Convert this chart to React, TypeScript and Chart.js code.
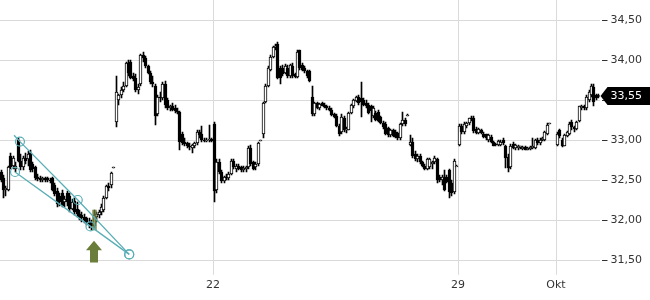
import React, { useEffect, useRef } from "react";
import { Chart, registerables } from "chart.js";

Chart.register(...registerables);

// [open, high, low, close]
type Candle = [number, number, number, number];

const sessionNames = ["15.09", "16.09", "17.09", "18.09", "19.09", "22.09", "23.09", "24.09", "25.09", "26.09", "29.09", "30.09", "01.10"];
const tickSessions = [5, 10, 12];
const tickLabels = ["22", "29", "Okt"];
const yTicks = [31.5, 32, 32.5, 33, 33.5, 34, 34.5];
const candlesPerSession = 20;

const sep15: Candle[] = [
  [32.60, 32.62, 32.48, 32.50], [32.52, 32.56, 32.28, 32.38], [32.38, 32.42, 32.30, 32.40],
  [32.38, 32.68, 32.36, 32.66], [32.80, 32.84, 32.64, 32.66], [32.68, 32.80, 32.64, 32.78],
  [32.64, 32.72, 32.60, 32.68],
];
const sep16: Candle[] = [
  [33.00, 33.03, 32.72, 32.74], [32.74, 32.82, 32.62, 32.66], [32.66, 32.80, 32.62, 32.78],
  [32.78, 32.84, 32.70, 32.74], [32.76, 32.86, 32.68, 32.82], [32.84, 32.88, 32.60, 32.62],
  [32.70, 32.73, 32.60, 32.64], [32.66, 32.68, 32.50, 32.52], [32.54, 32.58, 32.49, 32.51],
  [32.52, 32.55, 32.48, 32.50], [32.50, 32.54, 32.47, 32.52], [32.52, 32.54, 32.48, 32.50],
  [32.52, 32.54, 32.48, 32.50], [32.50, 32.53, 32.46, 32.49], [32.52, 32.54, 32.36, 32.38],
  [32.44, 32.46, 32.30, 32.32], [32.36, 32.40, 32.16, 32.20], [32.30, 32.34, 32.18, 32.22],
  [32.34, 32.37, 32.16, 32.18], [32.22, 32.30, 32.16, 32.26],
];
const sep17: Candle[] = [
  [32.34, 32.36, 32.18, 32.22], [32.30, 32.34, 32.10, 32.14], [32.14, 32.26, 32.12, 32.22],
  [32.24, 32.28, 32.06, 32.10], [32.14, 32.22, 32.04, 32.08], [32.08, 32.12, 32.00, 32.04],
  [32.06, 32.10, 31.98, 32.02], [32.04, 32.08, 31.96, 32.00], [32.02, 32.04, 31.94, 31.97],
  [31.98, 32.02, 31.90, 31.95], [31.96, 32.00, 31.88, 31.92], [31.92, 32.12, 31.90, 32.06],
  [32.04, 32.10, 31.98, 32.08], [32.06, 32.12, 32.02, 32.10], [32.10, 32.20, 32.06, 32.16],
  [32.12, 32.30, 32.10, 32.28], [32.28, 32.44, 32.26, 32.42], [32.42, 32.46, 32.36, 32.40],
  [32.44, 32.60, 32.40, 32.59], [32.65, 32.66, 32.65, 32.66],
];
const sep18: Candle[] = [
  [33.22, 33.80, 33.16, 33.60], [33.50, 33.58, 33.44, 33.56], [33.56, 33.66, 33.52, 33.63],
  [33.63, 33.72, 33.60, 33.68], [33.68, 33.98, 33.66, 33.96], [33.96, 34.00, 33.80, 33.84],
  [33.98, 34.00, 33.76, 33.78], [33.80, 33.84, 33.74, 33.76], [33.78, 33.82, 33.60, 33.62],
  [33.62, 33.70, 33.58, 33.66], [33.70, 34.08, 33.68, 34.06], [34.06, 34.10, 33.98, 34.02],
  [34.02, 34.05, 33.90, 33.93], [33.92, 33.94, 33.82, 33.84], [33.84, 33.86, 33.70, 33.72],
  [33.72, 33.80, 33.66, 33.70], [33.68, 33.70, 33.19, 33.30], [33.32, 33.56, 33.30, 33.54],
  [33.54, 33.60, 33.48, 33.52], [33.52, 33.72, 33.50, 33.70],
];
const sep19: Candle[] = [
  [33.70, 33.74, 33.40, 33.44], [33.50, 33.52, 33.38, 33.40], [33.40, 33.44, 33.36, 33.42],
  [33.42, 33.46, 33.36, 33.38], [33.40, 33.44, 33.34, 33.36], [33.36, 33.40, 33.33, 33.35],
  [33.35, 33.36, 32.88, 32.98], [33.08, 33.10, 32.94, 32.96], [32.98, 33.02, 32.92, 32.95],
  [32.96, 32.98, 32.90, 32.93], [32.93, 32.96, 32.88, 32.92], [32.90, 32.95, 32.84, 32.94],
  [32.93, 32.98, 32.90, 32.96], [32.96, 33.12, 32.94, 33.10], [33.10, 33.12, 33.02, 33.06],
  [33.08, 33.18, 32.98, 33.00], [33.00, 33.03, 32.97, 32.99], [32.99, 33.02, 32.98, 33.00],
  [33.00, 33.19, 32.98, 33.01], [33.01, 33.02, 32.97, 32.99],
];
const sep22: Candle[] = [
  [33.20, 33.22, 32.23, 32.36], [32.38, 32.76, 32.34, 32.72], [32.72, 32.76, 32.58, 32.60],
  [32.60, 32.62, 32.46, 32.49], [32.49, 32.55, 32.46, 32.54], [32.54, 32.58, 32.50, 32.52],
  [32.52, 32.60, 32.50, 32.58], [32.58, 32.76, 32.56, 32.74], [32.74, 32.76, 32.64, 32.66],
  [32.64, 32.70, 32.60, 32.68], [32.68, 32.70, 32.62, 32.64], [32.66, 32.68, 32.60, 32.62],
  [32.62, 32.67, 32.60, 32.65], [32.64, 32.68, 32.60, 32.66], [32.66, 32.92, 32.64, 32.90],
  [32.90, 32.94, 32.68, 32.70], [32.72, 32.74, 32.62, 32.64], [32.66, 32.72, 32.62, 32.70],
  [32.70, 32.98, 32.68, 32.96], [32.99, 33.00, 32.99, 33.00],
];
const sep23: Candle[] = [
  [33.08, 33.48, 33.02, 33.46], [33.48, 33.70, 33.46, 33.68], [33.68, 33.92, 33.66, 33.90],
  [33.88, 34.06, 33.86, 34.04], [34.04, 34.17, 34.02, 34.16], [34.16, 34.20, 34.12, 34.18],
  [34.20, 34.23, 33.76, 33.78], [33.90, 33.92, 33.70, 33.78], [33.90, 33.94, 33.80, 33.82],
  [33.84, 33.95, 33.82, 33.92], [33.90, 33.94, 33.78, 33.80], [33.80, 33.95, 33.78, 33.94],
  [33.92, 33.96, 33.78, 33.80], [33.82, 33.84, 33.78, 33.79], [33.79, 34.12, 33.78, 34.10],
  [34.12, 34.13, 33.88, 33.90], [33.94, 33.96, 33.86, 33.88], [33.90, 33.92, 33.84, 33.86],
  [33.86, 33.88, 33.78, 33.80], [33.86, 33.88, 33.72, 33.74],
];
const sep24: Candle[] = [
  [33.54, 33.67, 33.30, 33.32], [33.32, 33.47, 33.30, 33.46], [33.46, 33.48, 33.39, 33.40],
  [33.40, 33.46, 33.38, 33.45], [33.46, 33.48, 33.42, 33.43], [33.44, 33.46, 33.40, 33.41],
  [33.42, 33.44, 33.38, 33.40], [33.40, 33.42, 33.36, 33.38], [33.38, 33.40, 33.30, 33.31],
  [33.32, 33.34, 33.28, 33.29], [33.30, 33.32, 33.16, 33.18], [33.18, 33.20, 33.05, 33.08],
  [33.10, 33.32, 33.08, 33.29], [33.28, 33.30, 33.10, 33.12], [33.12, 33.16, 33.09, 33.14],
  [33.13, 33.35, 33.12, 33.34], [33.34, 33.45, 33.32, 33.44], [33.42, 33.51, 33.40, 33.50],
  [33.49, 33.55, 33.47, 33.54], [33.54, 33.56, 33.44, 33.46],
];
const sep25: Candle[] = [
  [33.52, 33.73, 33.29, 33.48], [33.50, 33.52, 33.42, 33.44], [33.46, 33.50, 33.40, 33.42],
  [33.44, 33.46, 33.32, 33.34], [33.42, 33.44, 33.22, 33.36], [33.30, 33.42, 33.28, 33.40],
  [33.34, 33.36, 33.24, 33.25], [33.35, 33.37, 33.22, 33.24], [33.29, 33.30, 33.20, 33.21],
  [33.21, 33.24, 33.14, 33.16], [33.20, 33.22, 33.06, 33.08], [33.15, 33.16, 33.04, 33.06],
  [33.06, 33.14, 33.04, 33.12], [33.13, 33.14, 33.04, 33.05], [33.10, 33.12, 33.02, 33.04],
  [33.09, 33.10, 33.00, 33.02], [33.02, 33.21, 33.00, 33.20], [33.20, 33.35, 33.18, 33.25],
  [33.25, 33.28, 33.18, 33.20], [33.31, 33.32, 33.30, 33.31],
];
const sep26: Candle[] = [
  [32.94, 33.06, 32.92, 32.98], [32.98, 33.02, 32.78, 32.80], [32.82, 32.86, 32.74, 32.76],
  [32.76, 32.82, 32.72, 32.80], [32.80, 32.82, 32.70, 32.72], [32.72, 32.74, 32.66, 32.68],
  [32.68, 32.70, 32.62, 32.64], [32.64, 32.78, 32.62, 32.76], [32.66, 32.78, 32.64, 32.76],
  [32.70, 32.74, 32.64, 32.72], [32.73, 32.80, 32.70, 32.78], [32.76, 32.78, 32.46, 32.50],
  [32.54, 32.56, 32.48, 32.50], [32.50, 32.56, 32.44, 32.54], [32.52, 32.62, 32.36, 32.38],
  [32.54, 32.56, 32.46, 32.48], [32.62, 32.64, 32.27, 32.35], [32.46, 32.50, 32.30, 32.34],
  [32.35, 32.76, 32.33, 32.74], [32.68, 32.69, 32.67, 32.68],
];
const sep29: Candle[] = [
  [32.94, 33.20, 32.93, 33.18], [33.18, 33.20, 33.08, 33.10], [33.10, 33.22, 33.08, 33.20],
  [33.18, 33.22, 33.15, 33.21], [33.21, 33.28, 33.19, 33.27], [33.28, 33.30, 33.24, 33.26],
  [33.28, 33.30, 33.09, 33.11], [33.14, 33.16, 33.08, 33.09], [33.09, 33.15, 33.07, 33.14],
  [33.12, 33.14, 33.08, 33.09], [33.08, 33.10, 33.02, 33.04], [33.07, 33.08, 33.00, 33.02],
  [33.00, 33.08, 32.98, 33.06], [33.04, 33.06, 32.96, 32.97], [32.98, 32.99, 32.92, 32.93],
  [32.95, 32.96, 32.92, 32.94], [32.94, 33.00, 32.93, 32.99], [32.94, 33.00, 32.92, 32.98],
  [33.00, 33.02, 32.94, 32.96], [32.92, 32.94, 32.65, 32.77],
];
const sep30: Candle[] = [
  [32.79, 32.82, 32.60, 32.65], [32.66, 32.95, 32.64, 32.93], [32.95, 32.97, 32.89, 32.90],
  [32.90, 32.95, 32.88, 32.94], [32.90, 32.94, 32.88, 32.93], [32.91, 32.93, 32.89, 32.92],
  [32.89, 32.92, 32.87, 32.91], [32.91, 32.92, 32.87, 32.88], [32.88, 32.91, 32.87, 32.90],
  [32.89, 32.92, 32.88, 32.91], [32.90, 33.02, 32.89, 32.92], [32.90, 33.01, 32.89, 33.00],
  [33.00, 33.02, 32.94, 32.96], [32.96, 33.02, 32.94, 33.00], [33.00, 33.04, 32.99, 33.02],
  [33.00, 33.11, 32.99, 33.10], [33.08, 33.21, 33.06, 33.19], [33.20, 33.21, 33.20, 33.21],
];
const oct01: Candle[] = [
  [32.94, 33.10, 32.93, 33.08], [33.12, 33.14, 33.03, 33.05], [33.00, 33.02, 32.91, 32.93],
  [32.93, 33.07, 32.92, 33.06], [33.05, 33.11, 33.04, 33.10], [33.08, 33.22, 33.06, 33.20],
  [33.23, 33.25, 33.12, 33.16], [33.16, 33.18, 33.10, 33.14], [33.14, 33.24, 33.12, 33.22],
  [33.24, 33.43, 33.22, 33.42], [33.40, 33.44, 33.37, 33.43], [33.43, 33.44, 33.38, 33.40],
  [33.40, 33.56, 33.38, 33.54], [33.50, 33.62, 33.48, 33.60], [33.56, 33.70, 33.54, 33.68],
  [33.66, 33.70, 33.42, 33.48], [33.56, 33.58, 33.50, 33.52], [33.56, 33.58, 33.52, 33.54],
  [33.56, 33.58, 33.53, 33.55],
];

const sessions: Candle[][] = [sep15, sep16, sep17, sep18, sep19, sep22, sep23, sep24, sep25, sep26, sep29, sep30, oct01];

// trend channel drawn on the chart (x in sessions, y in price)
const trendUpper = [
  { x: 0.94, y: 33.06 }, { x: 1.06, y: 32.98 }, { x: 2.24, y: 32.25 }, { x: 3.29, y: 31.57 },
];
const trendUpperMarks = [false, true, true, true];
const trendLower = [
  { x: 0.96, y: 32.60 }, { x: 2.50, y: 31.92 }, { x: 3.29, y: 31.57 },
];
const trendLowerMarks = [true, true, true];

// signal candle and buy arrow
const signalSession = 2;
const signalSlot = 11;
const signalRange = [31.88, 32.13];
const arrowRange = [31.74, 31.47];

// visible window: first shown session position, px per session, px per price unit, top price line
const firstVisible = 0.653;
const pxPerSession = 49;
const pxPerUnit = 80;
const topPrice = 34.75;

const TEAL = "#5aaeb6";
const OLIVE = "#6b7d3a";
const GRID = "#dadada";
const TEXT = "#333333";
const FONT = "DejaVu Sans";

const slotX = (s: number, slot: number) => s + (slot + 0.5) / candlesPerSession;

export default function App() {
  const ref = useRef<HTMLCanvasElement | null>(null);

  useEffect(() => {
    if (!ref.current) return;
    const bodies: any[] = [];
    const wicks: any[] = [];
    const colors: string[] = [];
    sessions.forEach((arr, s) => {
      const offset = s === 0 ? candlesPerSession - arr.length : 0;
      arr.forEach((c, i) => {
        const x = slotX(s, offset + i);
        bodies.push({ x, y: [c[0], c[3]] });
        wicks.push({ x, y: [c[2], c[1]] });
        colors.push(c[3] >= c[0] ? "#ffffff" : "#000000");
      });
    });
    const last = oct01[oct01.length - 1][3];
    const signalX = slotX(signalSession, signalSlot);

    // vertical session grid lines spanning the full height above the labels
    const sessionGrid = {
      id: "sessionGrid",
      beforeDatasetsDraw(chart: any) {
        const { ctx, chartArea } = chart;
        const xs = chart.scales.x;
        ctx.save();
        ctx.strokeStyle = GRID;
        ctx.lineWidth = 1;
        tickSessions.forEach((v) => {
          const px = Math.round(xs.getPixelForValue(v)) + 0.5;
          ctx.beginPath();
          ctx.moveTo(px, 0);
          ctx.lineTo(px, chartArea.bottom);
          ctx.stroke();
        });
        ctx.restore();
      },
    };

    const snap = {
      id: "snap",
      beforeDatasetsDraw(chart: any) {
        chart.data.datasets.forEach((ds: any, di: number) => {
          if (ds.type !== "bar") return;
          const meta = chart.getDatasetMeta(di);
          meta.data.forEach((el: any) => {
            el.x = Math.floor(el.x) + 0.5;
            const a = Math.round(el.y);
            let b = Math.round(el.base);
            if (a === b) b = a + 1;
            el.y = a;
            el.base = b;
          });
        });
      },
    };

    const overlay = {
      id: "overlay",
      afterDraw(chart: any) {
        const { ctx, chartArea } = chart;
        const xs = chart.scales.x;
        const ys = chart.scales.y;
        ctx.save();
        const ax = Math.round(xs.getPixelForValue(signalX));
        const top = ys.getPixelForValue(arrowRange[0]);
        const bot = ys.getPixelForValue(arrowRange[1]);
        const hb = top + 9.5;
        ctx.fillStyle = OLIVE;
        ctx.beginPath();
        ctx.moveTo(ax, top);
        ctx.lineTo(ax + 8, hb);
        ctx.lineTo(ax + 4, hb);
        ctx.lineTo(ax + 4, bot);
        ctx.lineTo(ax - 4, bot);
        ctx.lineTo(ax - 4, hb);
        ctx.lineTo(ax - 8, hb);
        ctx.closePath();
        ctx.fill();
        const py = Math.round(ys.getPixelForValue(last));
        const left = chartArea.right + 1;
        ctx.fillStyle = "#000";
        ctx.beginPath();
        ctx.moveTo(left, py);
        ctx.lineTo(left + 7, py - 9);
        ctx.lineTo(chart.width, py - 9);
        ctx.lineTo(chart.width, py + 9);
        ctx.lineTo(left + 7, py + 9);
        ctx.closePath();
        ctx.fill();
        ctx.fillStyle = "#fff";
        ctx.font = `11px "${FONT}"`;
        ctx.textBaseline = "middle";
        ctx.textAlign = "left";
        ctx.fillText(last.toFixed(2).replace(".", ","), left + 10, py + 0.5);
        ctx.restore();
      },
    };

    const chart = new Chart(ref.current, {
      type: "bar",
      data: {
        datasets: [
          {
            type: "line",
            data: trendUpper,
            borderColor: TEAL,
            borderWidth: 1.3,
            pointRadius: trendUpperMarks.map((m) => (m ? 4.5 : 0)),
            pointBorderColor: TEAL,
            pointBackgroundColor: "rgba(0,0,0,0)",
            pointBorderWidth: 1.2,
            order: 0,
          } as any,
          {
            type: "line",
            data: trendLower,
            borderColor: TEAL,
            borderWidth: 1.3,
            pointRadius: trendLowerMarks.map((m) => (m ? 4.5 : 0)),
            pointBorderColor: TEAL,
            pointBackgroundColor: "rgba(0,0,0,0)",
            pointBorderWidth: 1.2,
            order: 0,
          } as any,
          {
            type: "bar",
            data: [{ x: signalX, y: signalRange }],
            backgroundColor: "rgba(110,125,55,0.75)",
            barThickness: 4,
            grouped: false,
            order: 1,
          } as any,
          {
            type: "bar",
            data: bodies,
            backgroundColor: colors,
            borderColor: "#000",
            borderWidth: 1,
            borderSkipped: false,
            barThickness: 3,
            grouped: false,
            order: 2,
          } as any,
          {
            type: "bar",
            data: wicks,
            backgroundColor: "#000",
            borderWidth: 0,
            barThickness: 1,
            grouped: false,
            order: 3,
          } as any,
        ],
      },
      options: {
        animation: false,
        responsive: false,
        devicePixelRatio: 1,
        layout: { autoPadding: false, padding: { left: 0, right: 5, top: 0, bottom: 4 } },
        plugins: { legend: { display: false }, tooltip: { enabled: false } },
        scales: {
          x: {
            type: "linear",
            min: firstVisible,
            max: firstVisible + 12.3,
            offset: false,
            grid: { display: false, drawTicks: false, offset: false },
            border: { display: false },
            afterBuildTicks: (s: any) => {
              s.ticks = tickSessions.map((v) => ({ value: v }));
            },
            ticks: {
              autoSkip: false,
              maxRotation: 0,
              padding: 4,
              color: TEXT,
              font: { family: FONT, size: 11 },
              callback: (_v: any, i: number) => tickLabels[i],
            },
          },
          y: {
            position: "right",
            min: 31.26,
            max: topPrice,
            grid: { color: GRID, tickColor: "#333", tickLength: 8, tickBorderDash: [0, 2, 6, 100] },
            border: { display: false },
            afterBuildTicks: (s: any) => {
              s.ticks = yTicks.map((v) => ({ value: v }));
            },
            ticks: {
              padding: 3,
              color: TEXT,
              font: { family: FONT, size: 11 },
              callback: (v: any) => Number(v).toFixed(2).replace(".", ","),
            },
          },
        },
      } as any,
      plugins: [sessionGrid, snap, overlay],
    });

    // fit the value ranges to the laid-out plot area so the densities match
    const ca = chart.chartArea;
    const o: any = chart.options.scales;
    o.x.min = firstVisible - ca.left / pxPerSession;
    o.x.max = o.x.min + (ca.right - ca.left) / pxPerSession;
    o.y.max = topPrice - ca.top / pxPerUnit;
    o.y.min = o.y.max - (ca.bottom - ca.top) / pxPerUnit;
    chart.update();

    return () => chart.destroy();
  }, []);

  return (
    <div style={{ position: "fixed", left: 0, top: 0, width: 650, height: 300, background: "#fff" }}>
      <canvas ref={ref} width={650} height={300} style={{ display: "block" }} />
    </div>
  );
}
